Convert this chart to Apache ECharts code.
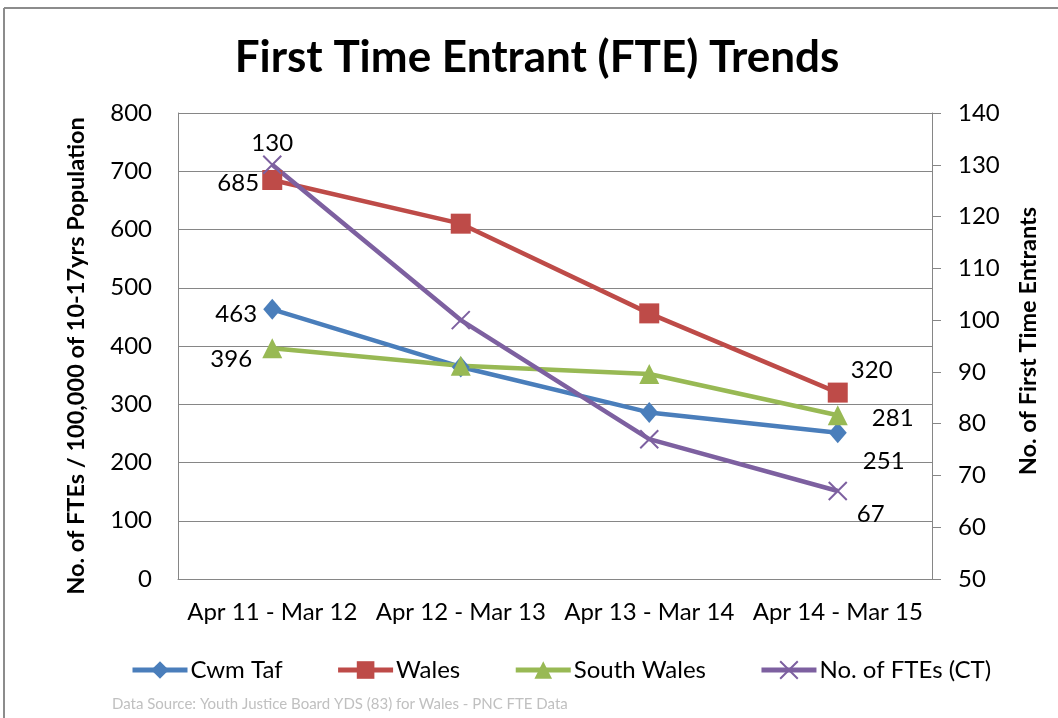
<!DOCTYPE html>
<html>
<head>
<meta charset="utf-8">
<script src="https://cdn.jsdelivr.net/npm/echarts@6/dist/echarts.min.js"></script>
<style>
  html, body { margin: 0; padding: 0; background: #fff; }
  #chart { width: 1058px; height: 718px; }
</style>
</head>
<body>
<div id="chart"></div>
<script>
const categories = ['Apr 11 - Mar 12', 'Apr 12 - Mar 13', 'Apr 13 - Mar 14', 'Apr 14 - Mar 15']
const cwmTaf = [463, 364, 286, 251]
const wales = [685, 610, 456, 320]
const southWales = [396, 366, 352, 281]
const fteCount = [130, 100, 77, 67]

const FONT = 'Lato'
const TXT = '#000'
const LBL = 24

// only the first and last points carry a value label
const endLabels = (values, firstOffset, lastOffset) =>
  values.map((v, i) => {
    const last = i === values.length - 1
    if (i !== 0 && !last) return { value: v, label: { show: false } }
    return {
      value: v,
      label: {
        show: true,
        position: 'inside',
        offset: i === 0 ? firstOffset : lastOffset,
        color: TXT,
        fontFamily: FONT,
        fontSize: LBL,
        textBorderWidth: 0,
      },
    }
  })

const lineSeries = (name, values, color, symbol, size, yAxisIndex, offs) => ({
  name,
  type: 'line',
  yAxisIndex,
  data: endLabels(values, offs[0], offs[1]),
  symbol,
  symbolSize: size,
  lineStyle: { color, width: 4.5 },
  itemStyle: { color, borderColor: color, borderWidth: 0 },
  emphasis: { disabled: true },
  animation: false,
})

const chart = echarts.init(document.getElementById('chart'))

const crossSeries = lineSeries('No. of FTEs (CT)', fteCount, '#7D60A0',
  'path://M0,0 L10,10 M10,0 L0,10', 18, 1, [[0, -22], [33, 23]])
crossSeries.itemStyle = { color: 'rgba(0,0,0,0)', borderColor: '#7D60A0', borderWidth: 2 }

chart.setOption({
  backgroundColor: '#fff',
  textStyle: { fontFamily: FONT },
  title: {
    text: 'First Time Entrant (FTE) Trends',
    left: 537,
    top: 36,
    padding: 0,
    textAlign: 'center',
    textStyle: { fontFamily: FONT, fontSize: 44, fontWeight: 'bold', color: TXT },
  },
  legend: {
    left: 125,
    top: 653,
    itemWidth: 55,
    itemHeight: 22,
    itemGap: 53,
    lineStyle: { width: 5 },
    textStyle: { fontFamily: FONT, fontSize: LBL, color: TXT, padding: [0, 0, 0, -2] },
    data: ['Cwm Taf', 'Wales', 'South Wales', 'No. of FTEs (CT)'],
  },
  grid: { left: 178, right: 126, top: 113, bottom: 139 },
  xAxis: {
    type: 'category',
    data: categories,
    axisLine: { lineStyle: { color: '#868686', width: 1 } },
    axisTick: { show: false },
    axisLabel: { color: TXT, fontSize: LBL, fontFamily: FONT, margin: 21, interval: 0 },
  },
  yAxis: [
    {
      type: 'value',
      min: 0,
      max: 800,
      interval: 100,
      name: 'No. of FTEs / 100,000 of 10-17yrs Population',
      nameLocation: 'middle',
      nameGap: 90,
      nameTextStyle: { color: TXT, fontSize: 23.5, fontWeight: 'bold', fontFamily: FONT, padding: [0, 20, 0, 0] },
      axisLine: { show: true, lineStyle: { color: '#868686' } },
      axisTick: { show: false },
      axisLabel: { color: TXT, fontSize: LBL, fontFamily: FONT, margin: 26 },
      splitLine: { lineStyle: { color: '#868686', width: 1 } },
    },
    {
      type: 'value',
      position: 'right',
      min: 50,
      max: 140,
      interval: 10,
      name: 'No. of First Time Entrants',
      nameLocation: 'middle',
      nameGap: 84,
      nameTextStyle: { color: TXT, fontSize: 23.5, fontWeight: 'bold', fontFamily: FONT, padding: [0, 0, 0, 10] },
      axisLine: { show: true, lineStyle: { color: '#868686' } },
      axisTick: { show: true, inside: false, length: 9, lineStyle: { color: '#868686' } },
      axisLabel: { color: TXT, fontSize: LBL, fontFamily: FONT, margin: 26 },
      splitLine: { show: false },
    },
  ],
  series: [
    lineSeries('Cwm Taf', cwmTaf, '#4A7EBB', 'diamond', [18, 21], 0, [[-36, 5], [46, 28]]),
    lineSeries('Wales', wales, '#BE4B48', 'rect', 20, 0, [[-34, 3], [34, -22]]),
    lineSeries('South Wales', southWales, '#98B954', 'triangle', 20, 0, [[-41, 11], [55, 3]]),
    crossSeries,
  ],
  graphic: [
    { type: 'line', shape: { x1: 4, y1: 8, x2: 1058, y2: 8 }, style: { stroke: '#8c8c8c', lineWidth: 2 } },
    { type: 'line', shape: { x1: 4, y1: 8, x2: 4, y2: 718 }, style: { stroke: '#8c8c8c', lineWidth: 2 } },
    {
      type: 'text',
      left: 112,
      top: 697,
      style: {
        text: 'Data Source: Youth Justice Board YDS (83) for Wales - PNC FTE Data',
        fill: '#c0c0c0',
        font: '15px Lato',
      },
    },
  ],
})

window.addEventListener('resize', () => chart.resize())
</script>
</body>
</html>
